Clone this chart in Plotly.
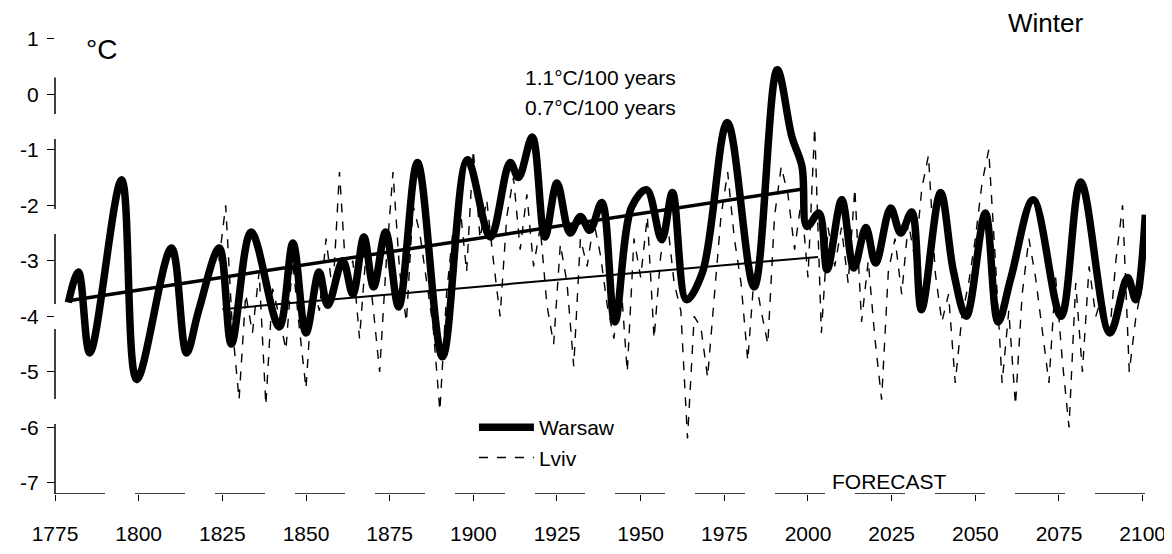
import plotly.graph_objects as go

# ---- data ----
warsaw_years = [1779, 1782, 1785.4, 1794.9, 1799.4, 1809.8, 1814.3, 1817.9, 1824.1, 1827.7,
                1833.6, 1842.0, 1846.1, 1850.0, 1853.9, 1856.5, 1861, 1864, 1867.3, 1870.2,
                1873.8, 1877.7, 1883.3, 1890.8, 1898.2, 1905.1, 1911, 1913.5, 1917.6, 1921.4,
                1925, 1928.9, 1932, 1934.8, 1938.4, 1942.3, 1947.3, 1951.8, 1956.3, 1959.5,
                1963.7, 1968.5, 1975.9, 1983.9, 1990.8, 1995.2, 1998.2, 1999.7, 2003.3, 2005.7,
                2010.1, 2013.7, 2017.3, 2020.2, 2024.7, 2027.7, 2031, 2033.9, 2039.6, 2043.5,
                2047.3, 2053, 2056.8, 2060.7, 2067.3, 2075.6, 2081.5, 2090.2, 2095.5, 2097.9,
                2100.8]
warsaw_vals = [-3.75, -3.2, -4.66, -1.54, -5.14, -2.77, -4.66, -3.9, -2.77, -4.5,
               -2.48, -4.19, -2.68, -4.3, -3.2, -3.8, -3.0, -3.6, -2.57, -3.47,
               -2.48, -3.83, -1.23, -4.73, -1.18, -2.57, -1.23, -1.5, -0.77, -2.57,
               -1.6, -2.5, -2.2, -2.45, -1.95, -4.1, -2.03, -1.72, -2.62, -1.77,
               -3.7, -3.2, -0.51, -3.47, 0.44, -0.77, -1.3, -2.38, -2.14, -3.16,
               -1.9, -3.13, -2.4, -3.04, -2.05, -2.5, -2.12, -3.88, -1.77, -3.2,
               -4.0, -2.14, -4.1, -3.29, -1.9, -4.0, -1.58, -4.3, -3.3, -3.7,
               -2.17]

lviv_years = list(range(1824, 2101, 2))
lviv_vals = [-3.0, -2.0, -4.2, -5.5, -3.6, -4.3, -3.2, -5.6, -3.5, -4.0,
             -4.6, -3.0, -4.2, -5.3, -3.4, -3.9, -2.6, -3.6, -1.4, -3.3,
             -3.0, -4.4, -2.8, -3.8, -5.0, -3.0, -1.4, -3.2, -4.1, -2.0,
             -2.5, -3.4, -4.2, -5.7, -3.6, -2.4, -2.0, -3.2, -1.0, -2.6,
             -1.9, -3.0, -4.0, -2.2, -1.5, -2.8, -1.8, -3.1, -2.4, -3.8,
             -4.5, -2.7, -3.4, -4.9, -2.6, -3.1, -2.3, -2.9, -3.8, -4.4,
             -3.3, -5.0, -2.6, -3.3, -2.2, -4.4, -2.9, -2.3, -3.4, -3.9,
             -6.2, -4.0, -4.2, -5.1, -3.6, -2.2, -1.4, -2.6, -3.4, -4.8,
             -3.2, -3.9, -4.5, -2.2, -1.3, -1.8, -2.8, -1.9, -3.3, -0.6,
             -4.3, -2.4, -3.1, -2.4, -3.4, -1.7, -4.1, -3.0, -4.4, -5.5,
             -3.2, -2.6, -3.6, -2.3, -3.0, -1.7, -1.1, -3.2, -4.1, -3.6,
             -5.2, -4.0, -3.4, -2.6, -1.6, -1.0, -3.0, -5.2, -3.9, -5.6,
             -3.6, -2.6, -3.3, -4.3, -5.2, -3.3, -4.8, -6.0, -3.4, -5.0,
             -3.1, -4.0, -3.6, -4.4, -3.0, -2.0, -5.0, -4.0, -3.4]

warsaw_trend_years = [1779, 1999]
warsaw_trend_vals = [-3.72, -1.7]
lviv_trend_years = [1825, 2003]
lviv_trend_vals = [-3.87, -2.93]

x_ticks = [1775, 1800, 1825, 1850, 1875, 1900, 1925, 1950, 1975, 2000, 2025, 2050, 2075, 2100]
y_ticks = [1, 0, -1, -2, -3, -4, -5, -6, -7]
y_tick_text = ["1", "0", "-1", "-2", "-3", "-4", "-5", "-6", "-7"]

FONT = "Liberation Sans, Arial, sans-serif"

fig = go.Figure()

fig.add_trace(go.Scatter(x=lviv_years, y=lviv_vals, mode="lines", name="Lviv",
                         legendgroup="b",
                         line=dict(color="black", width=1.4, dash="dash")))
fig.add_trace(go.Scatter(x=lviv_trend_years, y=lviv_trend_vals, mode="lines",
                         showlegend=False, line=dict(color="black", width=2)))
fig.add_trace(go.Scatter(x=warsaw_trend_years, y=warsaw_trend_vals, mode="lines",
                         showlegend=False, line=dict(color="black", width=3.5)))
fig.add_trace(go.Scatter(x=warsaw_years, y=warsaw_vals, mode="lines", name="Warsaw",
                         legendgroup="a",
                         line=dict(color="black", width=7.5, shape="spline", smoothing=1.0)))

fig.update_layout(
    width=1164, height=546,
    margin=dict(l=47, r=26, t=3, b=60),
    paper_bgcolor="white", plot_bgcolor="white",
    font=dict(family=FONT, size=21, color="black"),
    showlegend=True,
    legend=dict(x=0.384, y=0.18, xanchor="left", yanchor="top",
                traceorder="reversed", tracegroupgap=24, itemwidth=55,
                bgcolor="rgba(0,0,0,0)", font=dict(size=21)),
    xaxis=dict(range=[1775, 2101], tickvals=x_ticks, showgrid=False, zeroline=False,
               showline=False, ticks="outside", ticklen=6, tickcolor="black",
               ticklabelstandoff=15, tickfont=dict(size=21)),
    yaxis=dict(range=[-7.2, 1.5], tickvals=y_ticks, ticktext=y_tick_text, showgrid=False,
               zeroline=False, showline=False, ticks="outside", ticklen=7,
               tickcolor="black", ticklabelstandoff=4, tickfont=dict(size=21)),
    shapes=[
        dict(type="line", xref="paper", yref="y", x0=0, x1=0, y0=-7.2, y1=0.3,
             line=dict(color="black", width=1.5, dash="70px,25px")),
        dict(type="line", xref="paper", yref="y", x0=0, x1=1, y0=-7.2, y1=-7.2,
             line=dict(color="black", width=1.5, dash="50px,30px")),
    ],
    annotations=[
        dict(text="°C", x=1789, y=0.8, xref="x", yref="y", showarrow=False,
             font=dict(size=28)),
        dict(text="Winter", x=2071, y=1.28, xref="x", yref="y", showarrow=False,
             font=dict(size=26)),
        dict(text="1.1°C/100 years", x=1938, y=0.31, xref="x", yref="y", showarrow=False,
             font=dict(size=21)),
        dict(text="0.7°C/100 years", x=1938, y=-0.23, xref="x", yref="y", showarrow=False,
             font=dict(size=21)),
        dict(text="FORECAST", x=2024.5, y=-6.97, xref="x", yref="y", showarrow=False,
             font=dict(size=21)),
    ],
)

fig.write_html("out.html")
